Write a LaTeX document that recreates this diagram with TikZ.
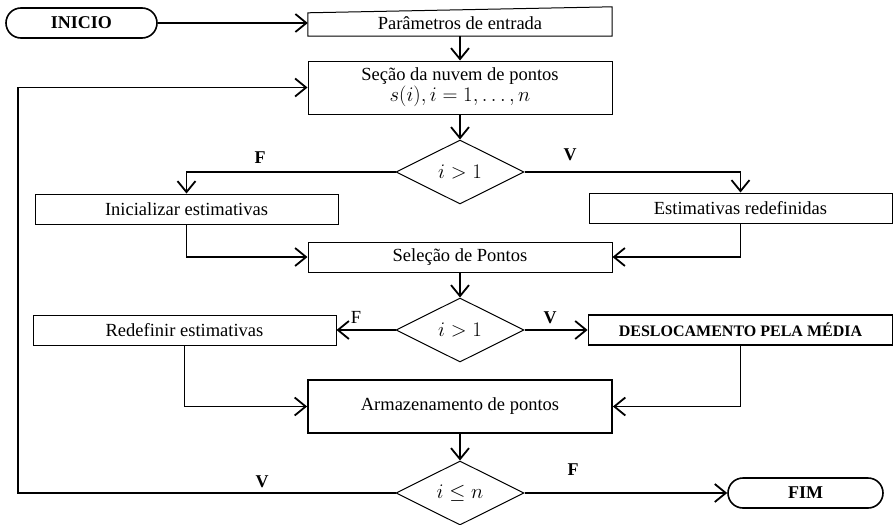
\documentclass[tikz,border=0pt]{standalone}
\usepackage{fontspec}
\setmainfont{Liberation Serif}
\usetikzlibrary{shapes.geometric,arrows.meta}
\begin{document}
\begin{tikzpicture}[x=1pt,y=-1pt,
  every node/.style={font=\fontsize{18.5}{22}\selectfont},
  box/.style={draw,line width=1pt,rectangle,inner sep=0pt,minimum height=30pt,minimum width=304pt},
  boxthick/.style={box,line width=1.8pt},
  terminal/.style={draw,line width=1.6pt,rectangle,rounded corners=15pt,inner sep=0pt,minimum height=30pt,font=\fontsize{18}{22}\selectfont\bfseries},
  decision/.style={draw,line width=1pt,diamond,aspect=2,inner sep=0pt,minimum width=128pt,minimum height=64pt,font=\fontsize{20}{22}\selectfont},
  arr/.style={line width=1.8pt,-{Straight Barb[length=11pt,width=18pt,line width=1.8pt]}},
  lbl/.style={font=\fontsize{18}{22}\selectfont\bfseries}
]
\useasboundingbox (0,0) rectangle (895,525);

\node[terminal,minimum width=151pt] (ini) at (81.5,23) {INICIO};
\node[inner sep=0pt,minimum width=304pt,minimum height=26pt] (par) at (460,23) {Parâmetros de entrada};
\draw[line width=1pt] (par.south west) -- (par.south east) -- ([yshift=3pt]par.north east) -- ([yshift=-3pt]par.north west) -- cycle;
\node[box,minimum height=53pt,align=center] (sec) at (460,87.5) {Seção da nuvem de pontos\\[-1pt]{\fontsize{20}{22}\selectfont$s(i), i = 1, \ldots, n$}};
\node[decision] (d1) at (460,172) {$i > 1$};
\node[box,minimum width=303pt] (inic) at (186.5,209) {Inicializar estimativas};
\node[box,minimum width=303pt] (est) at (740.5,208) {Estimativas redefinidas};
\node[box] (sel) at (460,257) {Seleção de Pontos};
\node[decision] (d2) at (460,330) {$i > 1$};
\node[box,minimum width=303pt] (red) at (184.5,330) {Redefinir estimativas};
\node[boxthick,minimum width=304pt,font=\fontsize{16}{20}\selectfont\bfseries] (des) at (740.5,330) {DESLOCAMENTO PELA MÉDIA};
\node[boxthick,minimum height=53pt] (arm) at (460,406.5) {Armazenamento de pontos};
\node[decision] (d3) at (460,493) {$i \le n$};
\node[terminal,minimum width=155pt] (fim) at (805.5,493) {FIM};
\coordinate (lp) at (18,493);

\draw[arr] (ini.east) -- (par.west);
\draw[arr] (par.south) -- (sec.north);
\draw[arr] (sec.south) -- (d1.north);
\draw[arr] (d1.west) -| (inic.north);
\draw[arr] (d1.east) -| (est.north);
\draw[arr] (inic.south) |- (sel.west);
\draw[arr] (est.south) |- (sel.east);
\draw[arr] (sel.south) -- (d2.north);
\draw[arr] (d2.west) -- (red.east);
\draw[arr] (d2.east) -- (des.west);
\draw[arr] (red.south) |- (arm.west);
\draw[arr] (des.south) |- (arm.east);
\draw[arr] (arm.south) -- (d3.north);
\draw[arr] (d3.west) -- (lp) |- (sec.west);
\draw[arr] (d3.east) -- (fim.west);

\node[lbl] (lf1) at (260,158) {F};
\node[lbl] (lv1) at (570,155) {V};
\node (lf2) at (356,317) {F};
\node[lbl] (lv2) at (550,318) {V};
\node[lbl] (lv3) at (262,482) {V};
\node[lbl] (lf3) at (573,470) {F};
\end{tikzpicture}
\end{document}
